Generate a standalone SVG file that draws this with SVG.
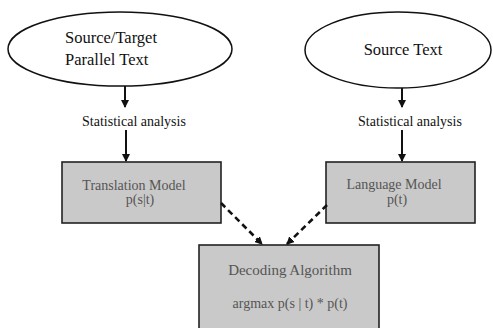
<svg xmlns="http://www.w3.org/2000/svg" width="493" height="328" viewBox="0 0 493 328">
<style>
.ell{fill:#fff;stroke:#111;stroke-width:1.5}
.box{fill:#c9c9c9;stroke:#222;stroke-width:1.6}
.et{font-family:"Liberation Serif",serif;font-size:16.5px;fill:#111}
.lbl{font-family:"Liberation Serif",serif;font-size:14px;fill:#111;text-anchor:middle}
.bt{font-family:"Liberation Serif",serif;font-size:14px;fill:#555;text-anchor:middle}
.solid{stroke:#111;stroke-width:2;fill:none}
.dash{stroke:#111;stroke-width:2.6;fill:none;stroke-dasharray:6 4}
</style>
<defs>
<marker id="ah" markerWidth="8" markerHeight="8" refX="7" refY="4" orient="auto" markerUnits="userSpaceOnUse">
<path d="M0,0 L8,4 L0,8 z" fill="#111"/>
</marker>
</defs>
<g id="src-target">
<ellipse class="ell" cx="120" cy="49" rx="112" ry="37"/>
<text class="et" x="65" y="43">Source/Target</text>
<text class="et" x="65" y="65">Parallel Text</text>
</g>
<g id="source-text">
<ellipse class="ell" cx="398" cy="50" rx="93" ry="38"/>
<text class="et" x="403" y="55" text-anchor="middle">Source Text</text>
</g>
<g id="stat-left"><text class="lbl" x="134" y="126">Statistical analysis</text></g>
<g id="stat-right"><text class="lbl" x="410" y="126">Statistical analysis</text></g>
<g id="translation-model">
<rect class="box" x="62" y="162" width="159" height="61"/>
<text class="bt" x="134" y="190">Translation Model</text>
<text class="bt" x="140" y="204">p(s|t)</text>
</g>
<g id="language-model">
<rect class="box" x="326" y="162" width="149" height="61"/>
<text class="bt" x="394" y="189">Language Model</text>
<text class="bt" x="397" y="204">p(t)</text>
</g>
<g id="decoding">
<rect class="box" x="199" y="245" width="180" height="90"/>
<text class="bt" x="290" y="275" style="font-size:15px">Decoding Algorithm</text>
<text class="bt" x="290" y="308">argmax p(s | t) * p(t)</text>
</g>
<g id="connectors">
<line class="solid" x1="125" y1="86" x2="125" y2="107" marker-end="url(#ah)"/>
<line class="solid" x1="126" y1="130" x2="126" y2="161" marker-end="url(#ah)"/>
<line class="solid" x1="402" y1="88" x2="402" y2="107" marker-end="url(#ah)"/>
<line class="solid" x1="402" y1="130" x2="402" y2="161" marker-end="url(#ah)"/>
<line class="dash" x1="221" y1="203" x2="262" y2="244" marker-end="url(#ah)"/>
<line class="dash" x1="327" y1="205" x2="287" y2="244" marker-end="url(#ah)"/>
</g>
</svg>
